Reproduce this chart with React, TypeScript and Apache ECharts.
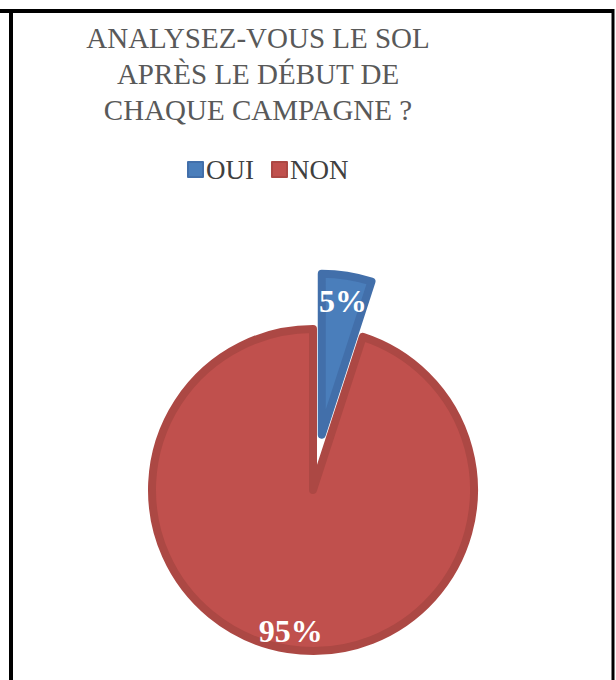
import React, { useEffect, useRef } from "react";
import * as echarts from "echarts";

const titleText = "ANALYSEZ-VOUS LE SOL\nAPRÈS LE DÉBUT DE\nCHAQUE CAMPAGNE ?";
const categories = ["OUI", "NON"];
const values = [5, 95];
const labels = ["5%", "95%"];
const fills = ["#4A7EBB", "#C0504D"];
const rims = ["#426FAA", "#AC4844"];

export default function App() {
  const ref = useRef<HTMLDivElement>(null);
  useEffect(() => {
    if (!ref.current) return;
    const chart = echarts.init(ref.current, null, { renderer: "svg" });
    const serif = "Liberation Serif";
    const mainData = categories.map((name, i) => ({
      name,
      value: values[i],
      selected: i === 0,
      itemStyle: { color: fills[i], borderColor: rims[i] },
    }));
    const labelData = (which: number) =>
      categories.map((name, i) => ({
        name,
        value: values[i],
        selected: i === 0,
        label: { show: i === which, formatter: labels[i] },
      }));
    const labelSeries = (which: number, r0: number) => ({
      type: "pie",
      name: "labels" + which,
      center: [313, 490],
      radius: [r0, 165],
      startAngle: 90,
      clockwise: true,
      selectedMode: "single",
      selectedOffset: 56,
      silent: true,
      itemStyle: { color: "rgba(0,0,0,0)" },
      label: {
        show: true,
        position: "inside",
        color: "#ffffff",
        fontFamily: serif,
        fontWeight: "bold",
        fontSize: 32,
      },
      labelLine: { show: false },
      emphasis: { disabled: true },
      data: labelData(which),
    });
    chart.setOption({
      animation: false,
      backgroundColor: "#ffffff",
      title: {
        text: titleText,
        left: 258,
        top: 20,
        padding: 0,
        textAlign: "center",
        textStyle: {
          fontFamily: serif,
          fontWeight: "normal",
          fontSize: 29,
          lineHeight: 36,
          color: "#595959",
        },
      },
      legend: {
        data: categories,
        left: 182,
        top: 151,
        icon: "rect",
        itemWidth: 15,
        itemHeight: 15,
        itemGap: 17,
        selectedMode: false,
        textStyle: {
          fontFamily: serif,
          fontSize: 27,
          color: "#404040",
          padding: [0, 0, 0, -2],
        },
      },
      graphic: [
        { type: "rect", shape: { x: 0, y: 9, width: 614, height: 4 }, style: { fill: "#000" } },
        { type: "rect", shape: { x: 9, y: 9, width: 4, height: 671 }, style: { fill: "#000" } },
        { type: "rect", shape: { x: 611.5, y: 9, width: 3, height: 671 }, style: { fill: "#000" } },
      ],
      series: [
        {
          type: "pie",
          name: "main",
          center: [313, 490],
          radius: [0, 161],
          startAngle: 90,
          clockwise: true,
          selectedMode: "single",
          selectedOffset: 56,
          silent: true,
          label: { show: false },
          labelLine: { show: false },
          itemStyle: { borderWidth: 8, borderJoin: "round" },
          emphasis: { disabled: true },
          data: mainData,
        },
        labelSeries(0, 100),
        labelSeries(1, 114),
      ],
    });
    return () => chart.dispose();
  }, []);
  return (
    <div
      ref={ref}
      style={{ position: "fixed", left: 0, top: 0, width: 616, height: 680 }}
    />
  );
}
